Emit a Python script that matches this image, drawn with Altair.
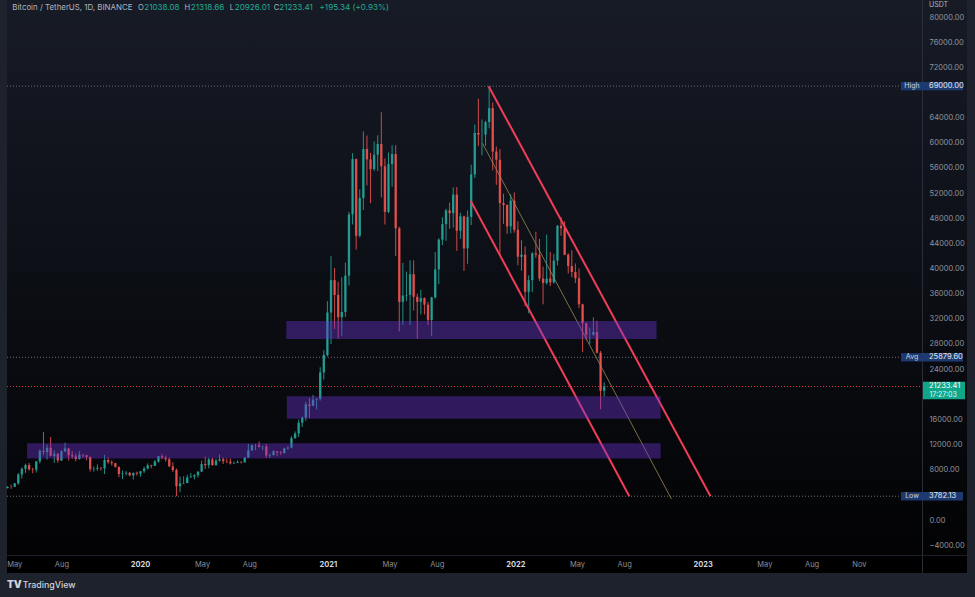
import altair as alt
import pandas as pd

# ---------------- data (weekly candles, BTC/USDT) ----------------
week_mid_start = "2019-04-18"
opens = [5070, 5300, 5280, 5830, 7260, 8150, 8740, 8040, 8000, 9330,
         11000, 10800, 11480, 10200, 10540, 9480, 10900, 11390, 10310, 10130,
         9720, 10380, 10300, 10030, 8080, 8140, 8300, 8220, 9550, 9200,
         9040, 8450, 7310, 7400, 7510, 7090, 7510, 7390, 7760, 8180,
         8700, 8600, 9300, 10150, 9900, 9660, 8530, 7950, 5360, 5820,
         5880, 6770, 6900, 7120, 7700, 8900, 8720, 9670, 8720, 9450,
         9670, 9340, 9290, 9010, 9080, 9230, 9170, 9930, 11080, 11900,
         11900, 11650, 11680, 10260, 10330, 10930, 10770, 10670, 11380, 11500,
         13030, 13760, 15480, 16300, 18400, 18180, 19150, 19250, 23480, 26260,
         33000, 38150, 35800, 32250, 33090, 38870, 48600, 57400, 45200, 51200,
         59000, 57350, 55800, 58100, 59800, 56250, 49000, 56600, 58200, 46400,
         34700, 35700, 35800, 39100, 35500, 34700, 35300, 34250, 31800, 35400,
         39850, 44600, 47050, 49250, 48800, 51750, 46000, 48300, 43200, 48200,
         54960, 61550, 61300, 61300, 63280, 65500, 58600, 57300, 50400, 50100,
         46700, 50800, 46150, 41850, 42200, 36300, 38150, 42400, 42200, 38400,
         37700, 38400, 37800, 41250, 46800, 46400, 42200, 40400, 39450, 38450,
         34300, 31300, 29450, 29450, 29900, 26600, 20550]
highs = [5340, 5630, 5900, 7450, 8370, 8950, 9080, 8300, 9350, 11250,
         13970, 12000, 13200, 11100, 10650, 11080, 12300, 11450, 10950, 10600,
         10950, 10480, 10370, 10100, 8500, 8850, 8400, 10370, 9950, 9500,
         9080, 8500, 7870, 7780, 7650, 7520, 7700, 7800, 8460, 9000,
         8780, 9560, 10160, 10500, 10250, 9950, 9190, 8200, 6900, 6970,
         7200, 7470, 7290, 7720, 9460, 10070, 9950, 9900, 9740, 10430,
         9990, 9800, 9780, 9310, 9480, 9360, 10000, 12120, 12000, 12100,
         12480, 11810, 12090, 10580, 11100, 10990, 10960, 11490, 11720, 13350,
         14100, 15960, 16480, 18800, 19400, 19900, 19400, 24300, 27000, 34800,
         41950, 40100, 37900, 38600, 40950, 49000, 58350, 57500, 52600, 61800,
         61150, 58400, 60200, 61200, 64850, 57500, 58450, 59600, 59600, 46650,
         40900, 39500, 41300, 41300, 36000, 36600, 35400, 34700, 35500, 42600,
         44800, 48150, 49500, 50500, 52900, 52950, 48850, 48400, 49250, 56500,
         62900, 67000, 63700, 63500, 69000, 66400, 59400, 59000, 51900, 50200,
         51800, 52100, 47500, 44500, 43500, 38900, 42600, 45850, 44700, 40300,
         45400, 42600, 42300, 46900, 48200, 47500, 42400, 42900, 40800, 40000,
         34400, 31400, 30600, 32200, 31700, 26900, 21900]
lows = [5030, 4950, 5230, 5600, 6600, 7500, 7850, 7430, 7550, 9000,
        10300, 9600, 10100, 9070, 9100, 9380, 10850, 9460, 9750, 9320,
        9600, 9900, 9500, 7700, 7700, 7800, 7850, 7300, 8950, 8650,
        8350, 6800, 6520, 7080, 6970, 6430, 7050, 6870, 7480, 8050,
        8230, 8580, 9130, 9700, 9300, 8440, 7630, 3782, 4440, 5690,
        5860, 6760, 6460, 6750, 7600, 8120, 8200, 8640, 8630, 9280,
        8900, 9050, 8830, 8890, 9050, 9000, 9120, 9900, 10950, 11120,
        11520, 11100, 9880, 9880, 10230, 10140, 10370, 10530, 11200, 11400,
        12900, 13200, 14800, 15800, 16200, 18100, 17600, 19000, 22350, 26000,
        28000, 30400, 28850, 29300, 32300, 37300, 47000, 43000, 44950, 49300,
        53200, 50400, 55550, 55500, 51300, 47000, 48800, 53000, 42000, 30000,
        31000, 34800, 31000, 33300, 28800, 32700, 32700, 31000, 29300, 35200,
        37500, 43700, 44400, 46300, 46500, 42800, 44700, 39600, 40750, 46900,
        54400, 59500, 58000, 59500, 62300, 55600, 53300, 42000, 47100, 45500,
        45600, 45700, 40500, 39650, 34000, 32900, 36250, 41700, 38000, 34300,
        37450, 37200, 37600, 40500, 45200, 42100, 39200, 38600, 37700, 33700,
        26700, 28600, 28000, 29300, 26500, 17600, 19600]
closes = [5300, 5280, 5830, 7260, 8150, 8740, 8040, 8000, 9330, 11000,
          10800, 11480, 10200, 10540, 9480, 10900, 11390, 10310, 10130, 9720,
          10380, 10300, 10030, 8080, 8140, 8300, 8220, 9550, 9200, 9040,
          8450, 7310, 7400, 7510, 7090, 7510, 7390, 7760, 8180, 8700,
          8600, 9300, 10150, 9900, 9660, 8530, 7950, 5360, 5820, 5880,
          6770, 6900, 7120, 7700, 8900, 8720, 9670, 8720, 9450, 9670,
          9340, 9290, 9010, 9080, 9230, 9170, 9930, 11080, 11900, 11900,
          11650, 11680, 10260, 10330, 10930, 10770, 10670, 11380, 11500, 13030,
          13760, 15480, 16300, 18400, 18180, 19150, 19250, 23480, 26260, 33000,
          38150, 35800, 32250, 33090, 38870, 48600, 57400, 45200, 51200, 59000,
          57350, 55800, 58100, 59800, 56250, 49000, 56600, 58200, 46400, 34700,
          35700, 35800, 39100, 35500, 34700, 35300, 34250, 31800, 35400, 39850,
          44600, 47050, 49250, 48800, 51750, 46000, 48300, 43200, 48200, 54960,
          61550, 61300, 61300, 63280, 65500, 58600, 57300, 50400, 50100, 46700,
          50800, 46150, 41850, 42200, 36300, 38150, 42400, 42200, 38400, 37700,
          38400, 37800, 41250, 46800, 46400, 42200, 40400, 39450, 38450, 34300,
          31300, 29450, 29450, 29900, 26600, 20550, 21233.41]

# support / resistance zones
zone_start = ["2020-10-12", "2020-10-13", "2019-05-26"]
zone_end = ["2022-10-03", "2022-10-11", "2022-10-11"]
zone_low = [28800, 16100, 9800]
zone_high = [31650, 19700, 12200]

# descending channel
chan_names = ["upper", "upper", "lower", "lower"]
chan_dates = ["2021-11-10", "2023-01-16", "2021-10-06", "2022-08-11"]
chan_prices = [69000, 3782.13, 50780, 3782.13]
mid_dates = ["2021-10-29", "2022-11-01"]
mid_prices = [59910, 3340]

# price levels
level_names = ["High", "Avg", "Low"]
level_prices = [69000.00, 25879.60, 3782.13]
last_price = 21233.41
last_time = "17:27:03"

header_title = "Bitcoin / TetherUS, 1D, BINANCE"
ohlc_letters = ["O", "H", "L", "C"]
ohlc_values = ["21038.08", "21318.66", "20926.01", "21233.41"]
change_text = "+195.34 (+0.93%)"

x_ticks = [(2019, 5), (2019, 8), (2020, 1), (2020, 5), (2020, 8), (2021, 1), (2021, 5),
           (2021, 8), (2022, 1), (2022, 5), (2022, 8), (2023, 1), (2023, 5), (2023, 8), (2023, 11)]
y_ticks = [-4000, 0, 8000, 12000, 16000, 24000, 28000, 32000, 36000, 40000, 44000,
           48000, 52000, 56000, 60000, 64000, 72000, 76000, 80000]

# ---------------- styling ----------------
FONT = "Inter"
UP = "#26a69a"
DOWN = "#ef5350"
GREEN_TXT = "#22ab94"
BOX_BLUE = "#1d3a70"
W, H = 915, 555

dates = pd.date_range(week_mid_start, periods=len(closes), freq="7D").strftime("%Y-%m-%d")
candles = pd.DataFrame({"date": dates, "open": opens, "high": highs, "low": lows, "close": closes})
zones = pd.DataFrame({"start": zone_start, "end": zone_end, "low": zone_low, "high": zone_high})
chan = pd.DataFrame({"name": chan_names, "date": chan_dates, "price": chan_prices})
mid = pd.DataFrame({"date": mid_dates, "price": mid_prices})
levels = pd.DataFrame({"name": level_names, "price": level_prices})
last = pd.DataFrame({"price": [last_price], "time": [last_time]})
one = pd.DataFrame({"a": [1]})

xscale = alt.Scale(domain=[alt.DateTime(year=2019, month=4, date=17, utc=True),
                           alt.DateTime(year=2024, month=3, date=3, utc=True)],
                   nice=False, padding=0)
yscale = alt.Scale(domain=[-5566, 82704], nice=False, zero=False, padding=0)

xaxis = alt.Axis(
    values=[alt.DateTime(year=y, month=m, date=1, utc=True) for y, m in x_ticks],
    labelExpr="utcmonth(datum.value) == 0 ? utcFormat(datum.value, '%Y') : utcFormat(datum.value, '%b')",
    title=None, domain=False, ticks=False, tickSize=0, grid=False,
    labelPadding=9, labelBaseline="middle", labelFontSize=7.5, labelFont=FONT,
    labelColor={"condition": {"test": "utcmonth(datum.value) == 0", "value": "#d1d4dc"}, "value": "#8a8e99"},
    labelFontWeight={"condition": {"test": "utcmonth(datum.value) == 0", "value": "bold"}, "value": "normal"},
    labelOverlap=False, labelFlush=False, zindex=1,
)
yaxis = alt.Axis(
    orient="right", values=y_ticks, format=".2f", title=None, domain=False, ticks=False,
    tickSize=0, grid=False, labelPadding=7, labelAlign="left", labelBaseline="middle",
    labelFontSize=7.5, labelFont=FONT, labelColor="#8f939e", labelOverlap=False,
    labelFlush=False, zindex=1,
)


def X(field):
    return alt.X(f"{field}:T", scale=xscale, axis=xaxis, title=None)


def Y(field):
    return alt.Y(f"{field}:Q", scale=yscale, axis=yaxis, title=None)


def txt(s, x, y, color, size=8.5, weight="normal", align="left", font=FONT):
    return alt.Chart(one).mark_text(
        text=s, align=align, baseline="middle", color=color, fontSize=size,
        fontWeight=weight, font=font,
    ).encode(x=alt.value(x), y=alt.value(y))


gradient = alt.LinearGradient(
    gradient="linear",
    stops=[alt.GradientStop(color="#171b26", offset=0),
           alt.GradientStop(color="#0b0d13", offset=0.55),
           alt.GradientStop(color="#020203", offset=1)],
    x1=0, x2=0, y1=0, y2=1,
)

bg = alt.Chart(one).mark_rect(color=gradient).encode(
    x=alt.value(0), x2=alt.value(960), y=alt.value(0), y2=alt.value(573))
strip = alt.Chart(one).mark_rect(color="#000000").encode(
    x=alt.value(0), x2=alt.value(960), y=alt.value(555), y2=alt.value(573))
sep_v = alt.Chart(one).mark_rule(color="#2a2e39", strokeWidth=1).encode(
    x=alt.value(915.5), y=alt.value(0), y2=alt.value(573))
sep_h = alt.Chart(one).mark_rule(color="#1c1f29", strokeWidth=1).encode(
    x=alt.value(0), x2=alt.value(960), y=alt.value(555.5))

level_lines = alt.Chart(levels).mark_rule(color="#6a6d78", strokeDash=[1, 2], strokeWidth=1).encode(
    y=Y("price"), x=alt.value(0), x2=alt.value(894))
last_line = alt.Chart(last).mark_rule(color="#f23645", strokeDash=[1, 2], strokeWidth=1, opacity=0.85).encode(
    y=Y("price"), x=alt.value(0), x2=alt.value(915))

color = alt.condition("datum.close >= datum.open", alt.value(UP), alt.value(DOWN))
wicks = alt.Chart(candles).mark_rule(strokeWidth=1, opacity=0.85).encode(
    x=X("date"), y=Y("low"), y2="high", color=color)
bodies = alt.Chart(candles).mark_bar(size=2.4, opacity=0.85).encode(
    x=X("date"), y=Y("open"), y2="close", color=color)

channel = alt.Chart(chan).mark_line(color="#f23d58", strokeWidth=2).encode(
    x=X("date"), y=Y("price"), detail="name:N")
midline = alt.Chart(mid).mark_line(color="#9a8a55", strokeWidth=0.8).encode(
    x=X("date"), y=Y("price"))

zone_rects = alt.Chart(zones).mark_rect(color="#6f35d6", opacity=0.4).encode(
    x=X("start"), x2="end", y=Y("low"), y2="high")

name_boxes = alt.Chart(levels).mark_point(
    shape="M-1,-0.38H1V0.38H-1Z", size=484, filled=True, color=BOX_BLUE, opacity=1, strokeWidth=0
).encode(x=alt.value(905), y=Y("price"))
value_boxes = alt.Chart(levels).mark_point(
    shape="M-1,-0.21H1V0.21H-1Z", size=1600, filled=True, color=BOX_BLUE, opacity=1, strokeWidth=0
).encode(x=alt.value(936), y=Y("price"))
name_text = alt.Chart(levels).mark_text(
    align="center", baseline="middle", color="#d1d4dc", fontSize=7, font=FONT
).encode(x=alt.value(905), y=Y("price"), text="name:N")
value_text = alt.Chart(levels).mark_text(
    align="left", baseline="middle", color="#e8eaed", fontSize=7.5, font=FONT
).encode(x=alt.value(922), y=Y("price"), text=alt.Text("price:Q", format=".2f"))

last_box = alt.Chart(last).mark_point(
    shape="M-1,-0.229H1V0.61H-1Z", size=1764, filled=True, color="#0fa68a", opacity=1, strokeWidth=0
).encode(x=alt.value(937), y=Y("price"))
last_text = alt.Chart(last).mark_text(
    align="left", baseline="middle", color="#ffffff", fontSize=7.5, font=FONT
).encode(x=alt.value(922), y=Y("price"), text=alt.Text("price:Q", format=".2f"))
last_time_text = alt.Chart(last).mark_text(
    align="left", baseline="middle", color="#e6f5f1", fontSize=7, font=FONT, dy=9
).encode(x=alt.value(922.5), y=Y("price"), text="time:N")

header = [txt(header_title, 5.3, 8, "#b2b5be", size=7.9)]
letter_x = [131.0, 177.5, 222.8, 266.8]
value_x = [137.2, 183.8, 227.8, 272.2]
for letter, lx, val, vx in zip(ohlc_letters, letter_x, ohlc_values, value_x):
    header.append(txt(letter, lx, 8, "#b2b5be", size=7.6))
    header.append(txt(val, vx, 8, GREEN_TXT, size=8.1))
header.append(txt(change_text, 312.5, 8, GREEN_TXT, size=8.1))

usdt = txt("USDT", 922, 5, "#b2b5be", size=7)
logo = txt("TV", 0, 585, "#d1d4dc", size=10, weight=900)
brand = txt("TradingView", 15.7, 585, "#d1d4dc", size=8.8, weight=500)

chart = alt.layer(
    bg, strip, sep_v, sep_h, level_lines, last_line, wicks, bodies, channel, midline,
    zone_rects, name_boxes, value_boxes, name_text, value_text, last_box, last_text,
    last_time_text, *header, usdt, logo, brand,
).properties(
    width=W, height=H,
    padding={"left": 7, "top": 0, "right": 53, "bottom": 42},
    autosize=alt.AutoSizeParams(type="none"),
    background="#1e222d",
).configure_view(stroke=None)

chart.save("out.html", embed_options={
    "renderer": "svg", "actions": False,
    "defaultStyle": "body{margin:0;background:#1e222d;overflow:hidden}",
})
